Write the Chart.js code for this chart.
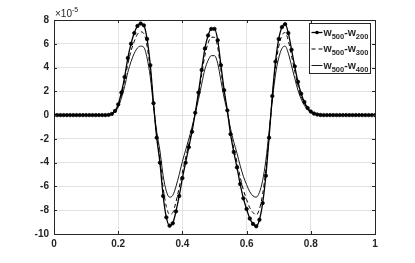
<!DOCTYPE html>
<html>
<head>
<meta charset="utf-8">
<script src="https://cdn.jsdelivr.net/npm/chart.js@4.4.1/dist/chart.umd.min.js"></script>
<style>
  html, body { margin: 0; padding: 0; background: #fff; }
</style>
</head>
<body>
<canvas id="myChart" width="415" height="263"></canvas>
<script>
// x positions (0 .. 1)
const xValues = [
  0, 0.01, 0.02, 0.03, 0.04, 0.05, 0.06, 0.07, 0.08, 0.09,
  0.10, 0.11, 0.12, 0.13, 0.14, 0.15, 0.16, 0.17, 0.18, 0.19,
  0.20, 0.21, 0.22, 0.23, 0.24, 0.25, 0.26, 0.27, 0.28, 0.29,
  0.30, 0.31, 0.32, 0.33, 0.34, 0.35, 0.36, 0.37, 0.38, 0.39,
  0.40, 0.41, 0.42, 0.43, 0.44, 0.45, 0.46, 0.47, 0.48, 0.49,
  0.50, 0.51, 0.52, 0.53, 0.54, 0.55, 0.56, 0.57, 0.58, 0.59,
  0.60, 0.61, 0.62, 0.63, 0.64, 0.65, 0.66, 0.67, 0.68, 0.69,
  0.70, 0.71, 0.72, 0.73, 0.74, 0.75, 0.76, 0.77, 0.78, 0.79,
  0.80, 0.81, 0.82, 0.83, 0.84, 0.85, 0.86, 0.87, 0.88, 0.89,
  0.90, 0.91, 0.92, 0.93, 0.94, 0.95, 0.96, 0.97, 0.98, 0.99,
  1.00
];

// values in units of 1e-5
const w500_w200 = [
  0, 0, 0, 0, 0, 0, 0, 0, 0, 0,
  0, 0, 0, 0, 0, 0, 0, 0.02, 0.1, 0.35,
  0.9, 1.9, 3.2, 4.8, 6.0, 6.9, 7.5, 7.7, 7.55, 6.4,
  4.2, 1.0, -1.9, -4.0, -6.8, -8.6, -9.3, -9.1, -8.1, -6.8,
  -5.3, -4.0, -2.7, -1.4, 0.2, 1.9, 3.8, 5.6, 6.7, 7.25,
  7.25, 6.3, 4.2, 2.1, 0.4, -1.6, -3.1, -4.4, -5.8, -7.0,
  -7.9, -8.7, -9.15, -9.35, -8.8, -7.4, -5.1, -1.9, 1.6, 4.5,
  6.4, 7.4, 7.65, 6.9, 5.5, 4.1, 2.8, 1.8, 1.1, 0.6,
  0.3, 0.13, 0.05, 0.01, 0, 0, 0, 0, 0, 0,
  0, 0, 0, 0, 0, 0, 0, 0, 0, 0,
  0
];

const w500_w300 = [
  0, 0, 0, 0, 0, 0, 0, 0, 0, 0,
  0, 0, 0, 0, 0, 0, 0, 0.02, 0.09, 0.32,
  0.8, 1.7, 2.9, 4.3, 5.4, 6.2, 6.8, 7.0, 6.85, 5.8,
  3.8, 0.9, -1.7, -3.6, -6.1, -7.7, -8.35, -8.2, -7.3, -6.1,
  -4.8, -3.6, -2.4, -1.25, 0.18, 1.7, 3.4, 5.0, 6.05, 6.55,
  6.55, 5.7, 3.8, 1.9, 0.36, -1.45, -2.8, -3.95, -5.2, -6.3,
  -7.1, -7.8, -8.2, -8.4, -7.9, -6.65, -4.6, -1.7, 1.45, 4.05,
  5.75, 6.7, 6.95, 6.25, 5.0, 3.7, 2.5, 1.6, 1.0, 0.55,
  0.27, 0.12, 0.045, 0.01, 0, 0, 0, 0, 0, 0,
  0, 0, 0, 0, 0, 0, 0, 0, 0, 0,
  0
];

const w500_w400 = [
  0, 0, 0, 0, 0, 0, 0, 0, 0, 0,
  0, 0, 0, 0, 0, 0, 0, 0.02, 0.08, 0.27,
  0.68, 1.43, 2.4, 3.6, 4.5, 5.2, 5.65, 5.8, 5.7, 4.8,
  3.2, 0.75, -1.4, -3.0, -5.1, -6.4, -6.9, -6.75, -6.0, -5.0,
  -3.9, -2.95, -2.0, -1.0, 0.14, 1.3, 2.6, 3.85, 4.6, 5.0,
  5.0, 4.35, 2.9, 1.45, 0.28, -1.15, -2.25, -3.2, -4.25, -5.15,
  -5.85, -6.45, -6.8, -6.9, -6.5, -5.5, -3.8, -1.4, 1.2, 3.4,
  4.8, 5.6, 5.8, 5.2, 4.15, 3.1, 2.1, 1.35, 0.82, 0.45,
  0.22, 0.1, 0.04, 0.01, 0, 0, 0, 0, 0, 0,
  0, 0, 0, 0, 0, 0, 0, 0, 0, 0,
  0
];

const seriesLabels = ['w500-w200', 'w500-w300', 'w500-w400'];
const xTicks = [0, 0.2, 0.4, 0.6, 0.8, 1];
const yTicks = [-10, -8, -6, -4, -2, 0, 2, 4, 6, 8];
const exponentText = ['\u00d710', '-5'];

const axisColor = '#262626';
const tickFont = { family: "'Liberation Sans', Arial, sans-serif", size: 10, weight: 'bold' };

function toPoints(ys) {
  return ys.map((y, i) => ({ x: xValues[i], y: y }));
}

const datasets = [
  {
    label: seriesLabels[0],
    data: toPoints(w500_w200),
    borderColor: '#000',
    backgroundColor: '#000',
    borderWidth: 1.3,
    pointRadius: 1.7,
    pointBorderWidth: 0.8,
    pointBackgroundColor: '#000',
    pointBorderColor: '#000'
  },
  {
    label: seriesLabels[1],
    data: toPoints(w500_w300),
    borderColor: '#000',
    borderWidth: 1,
    borderDash: [4, 3],
    pointRadius: 0
  },
  {
    label: seriesLabels[2],
    data: toPoints(w500_w400),
    borderColor: '#000',
    borderWidth: 0.9,
    pointRadius: 0
  }
];

// draws box, inner ticks, exponent label and legend the matlab way
const framePlugin = {
  id: 'frame',
  afterDatasetsDraw(chart) {
    const { ctx, chartArea: a, scales } = chart;
    ctx.save();
    ctx.strokeStyle = axisColor;
    ctx.lineWidth = 1;
    ctx.beginPath();
    ctx.moveTo(a.left, a.top + 0.5);
    ctx.lineTo(a.right + 0.5, a.top + 0.5);
    ctx.lineTo(a.right + 0.5, a.bottom);
    ctx.stroke();

    ctx.beginPath();
    xTicks.forEach(v => {
      const px = Math.round(scales.x.getPixelForValue(v)) + 0.5;
      ctx.moveTo(px, a.bottom); ctx.lineTo(px, a.bottom - 3);
      ctx.moveTo(px, a.top); ctx.lineTo(px, a.top + 3);
    });
    yTicks.forEach(v => {
      const py = Math.round(scales.y.getPixelForValue(v)) + 0.5;
      ctx.moveTo(a.left, py); ctx.lineTo(a.left + 3, py);
      ctx.moveTo(a.right, py); ctx.lineTo(a.right - 3, py);
    });
    ctx.stroke();

    // x10^-5
    ctx.fillStyle = axisColor;
    ctx.font = "10px 'Liberation Sans', Arial, sans-serif";
    ctx.textBaseline = 'alphabetic';
    ctx.fillText(exponentText[0], a.left + 1, a.top - 3);
    const ew = ctx.measureText(exponentText[0]).width;
    ctx.font = "7px 'Liberation Sans', Arial, sans-serif";
    ctx.fillText(exponentText[1], a.left + 1 + ew, a.top - 8);

    // legend
    const bx = 309.5, by = 23.5, bw = 61, bh = 50;
    ctx.fillStyle = '#fff';
    ctx.fillRect(bx, by, bw, bh);
    ctx.strokeStyle = axisColor;
    ctx.strokeRect(bx, by, bw, bh);
    chart.data.datasets.forEach((ds, i) => {
      const yc = by + 9 + i * 16.5;
      ctx.strokeStyle = '#000';
      ctx.lineWidth = ds.borderWidth;
      ctx.setLineDash(ds.borderDash || []);
      ctx.beginPath();
      ctx.moveTo(bx + 2, yc);
      ctx.lineTo(bx + 13, yc);
      ctx.stroke();
      ctx.setLineDash([]);
      if (ds.pointRadius > 0) {
        ctx.fillStyle = '#000';
        ctx.beginPath();
        ctx.arc(bx + 7.5, yc, 1.8, 0, Math.PI * 2);
        ctx.fill();
      }
      ctx.fillStyle = axisColor;
      let tx = bx + 14;
      const runs = ds.label.match(/[^0-9]+|[0-9]+/g);
      runs.forEach(r => {
        if (/^[0-9]+$/.test(r)) {
          ctx.font = "bold 7.5px 'Liberation Sans', Arial, sans-serif";
          ctx.fillText(r, tx, yc + 6);
        } else {
          ctx.font = "bold 10.5px 'Liberation Sans', Arial, sans-serif";
          ctx.fillText(r, tx, yc + 3);
        }
        tx += ctx.measureText(r).width;
      });
    });
    ctx.restore();
  }
};

const config = {
  type: 'line',
  data: { datasets: datasets },
  options: {
    responsive: false,
    animation: false,
    devicePixelRatio: 1,
    cubicInterpolationMode: 'monotone',
    layout: { padding: { top: 20, right: 40, left: 0, bottom: 0 } },
    plugins: {
      legend: { display: false },
      tooltip: { enabled: false }
    },
    scales: {
      x: {
        type: 'linear',
        min: 0,
        max: 1,
        afterFit: s => { s.height = 29; },
        afterBuildTicks: s => { s.ticks = xTicks.map(v => ({ value: v })); },
        ticks: {
          color: axisColor,
          font: tickFont,
          padding: 4,
          maxRotation: 0,
          callback: v => String(parseFloat(v.toFixed(1)))
        },
        grid: { color: '#e3e3e3', drawTicks: false },
        border: { color: axisColor, width: 1 }
      },
      y: {
        min: -10,
        max: 8,
        afterFit: s => { s.width = 54; },
        afterBuildTicks: s => { s.ticks = yTicks.map(v => ({ value: v })); },
        ticks: {
          color: axisColor,
          font: tickFont,
          padding: 5
        },
        grid: { color: '#e3e3e3', drawTicks: false },
        border: { color: axisColor, width: 1 }
      }
    }
  },
  plugins: [framePlugin]
};

const myChart = new Chart(document.getElementById('myChart'), config);
</script>
</body>
</html>
